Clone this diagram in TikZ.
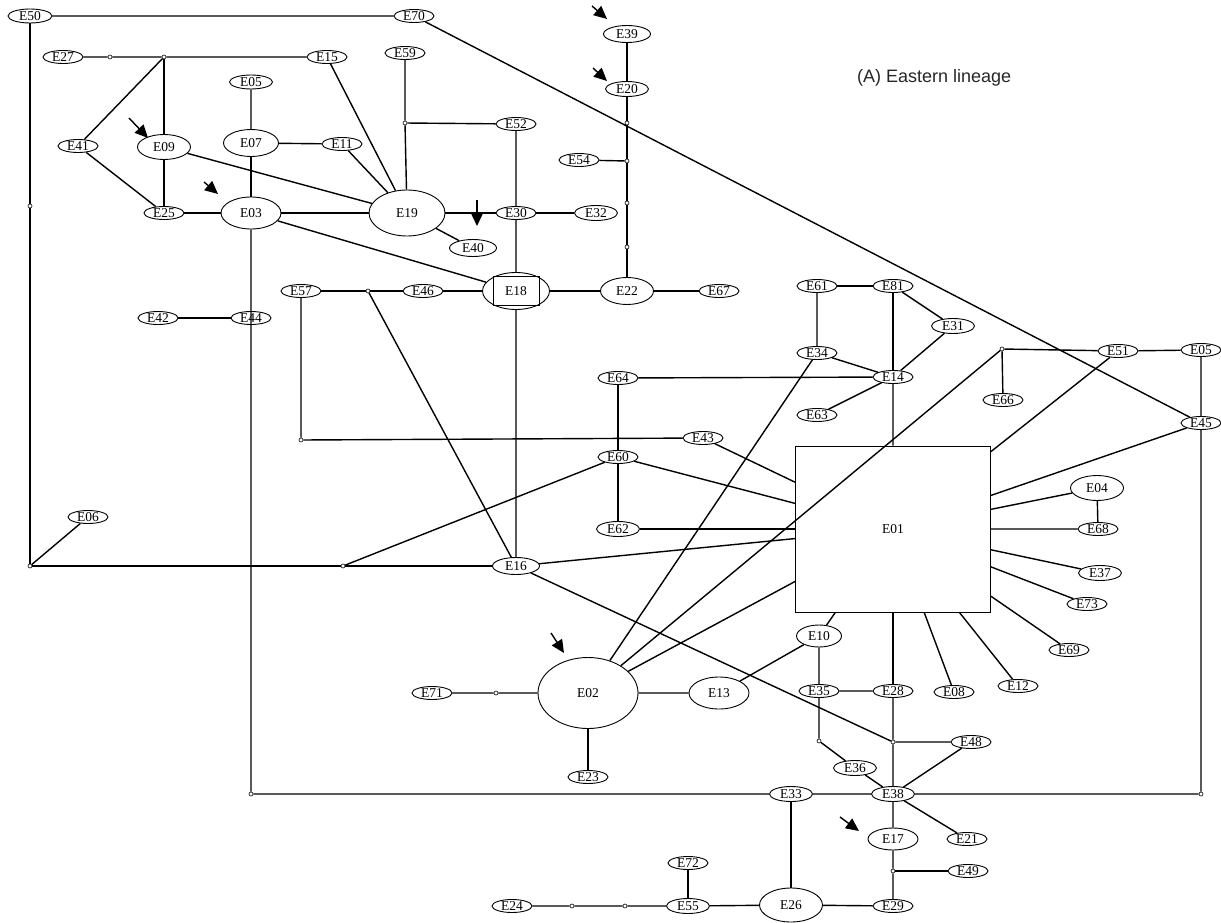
\documentclass[tikz,border=0pt]{standalone}
\usepackage{fontspec}
\setmainfont{Liberation Serif}
\newfontfamily\titlefont{Liberation Sans}
\usetikzlibrary{shapes.geometric,arrows.meta}

\begin{document}
\begin{tikzpicture}[x=1pt,y=-1pt,
  hap/.style 2 args={ellipse,draw,line width=0.9pt,inner sep=0pt,minimum width=#1,minimum height=#2,font=\fontsize{13.5}{13.5}\selectfont},
  hs/.style={hap={40pt}{13pt},font=\fontsize{13.5}{13.5}\selectfont},
  hm/.style={hap={43pt}{15pt}},
  mv/.style={circle,draw,fill=white,line width=0.6pt,inner sep=0pt,minimum size=4pt},
  link/.style={line width=1.4pt},
  pointer/.style={line width=1.4pt,-{Triangle[length=13pt,width=12pt]}}]
\useasboundingbox (0,0) rectangle (1221,923);

\node[anchor=west,inner sep=0pt,font=\titlefont\fontsize{18}{18}\selectfont,text=black!85] (title) at (857,78) {(A) Eastern lineage};

\node[draw,line width=0.9pt,minimum width=195pt,minimum height=166pt,font=\fontsize{13.5}{13.5}\selectfont] (e01) at (893,529) {E01};
\node[hap={100pt}{71pt}] (e02) at (588,693) {E02};
\node[hap={60pt}{32pt}] (e03) at (251,213) {E03};
\node[hap={76pt}{46pt}] (e19) at (407,213) {E19};
\node[hap={67pt}{37pt}] (e18) at (516,291) {};
\node[draw,line width=0.9pt,minimum width=46pt,minimum height=29pt,font=\fontsize{13.5}{13.5}\selectfont] (e18box) at (516,291) {E18};
\node[hap={53pt}{25pt}] (e09) at (164,147) {E09};
\node[hap={55pt}{27pt}] (e07) at (251,143) {E07};
\node[hap={53pt}{27pt}] (e22) at (627,291) {E22};
\node[hap={53pt}{25pt}] (e04) at (1097,488) {E04};
\node[hap={60pt}{32pt}] (e13) at (719,693) {E13};
\node[hap={45pt}{22pt}] (e10) at (819,636) {E10};
\node[hap={50pt}{22pt}] (e17) at (893,839) {E17};
\node[hap={63pt}{34pt}] (e26) at (791,905) {E26};
\node[hap={47pt}{17pt}] (e39) at (627,34) {E39};
\node[hap={47pt}{17pt}] (e40) at (473,248) {E40};
\node[hap={47pt}{17pt}] (e16) at (516,566) {E16};
\node[hap={43pt}{14pt}] (e05a) at (251,82) {E05};
\node[hm] (e20) at (627,89) {E20};
\node[hm] (e32) at (596,213) {E32};
\node[hm] (e62) at (618,529) {E62};
\node[hm] (e31) at (953,326) {E31};
\node[hm] (e37) at (1100,573) {E37};
\node[hm] (e36) at (855,768) {E36};
\node[hm] (e38) at (893,794) {E38};
\node[hm] (e33) at (791,794) {E33};
\node[hm] (e55) at (688,906) {E55};

\node[hap={44pt}{14pt}] (e50) at (30,16) {E50};
\node[hs] (e70) at (414,16) {E70};
\node[hs] (e27) at (63,57) {E27};
\node[hs] (e15) at (327,57) {E15};
\node[hs] (e41) at (78,146) {E41};
\node[hs] (e11) at (342,144) {E11};
\node[hs] (e25) at (164,213) {E25};
\node[hs] (e59) at (405,53) {E59};
\node[hs] (e52) at (516,124) {E52};
\node[hs] (e54) at (579,160) {E54};
\node[hs] (e30) at (516,213) {E30};
\node[hs] (e57) at (301,291) {E57};
\node[hs] (e46) at (423,291) {E46};
\node[hs] (e67) at (719,291) {E67};
\node[hs] (e42) at (158,318) {E42};
\node[hs] (e44) at (251,318) {E44};
\node[hs] (e06) at (88,517) {E06};
\node[hs] (e61) at (817,286) {E61};
\node[hs] (e81) at (893,286) {E81};
\node[hs] (e34) at (817,353) {E34};
\node[hs] (e14) at (893,377) {E14};
\node[hs] (e63) at (817,415) {E63};
\node[hs] (e64) at (618,378) {E64};
\node[hs] (e43) at (703,438) {E43};
\node[hs] (e60) at (618,457) {E60};
\node[hs] (e66) at (1003,400) {E66};
\node[hs] (e51) at (1118,351) {E51};
\node[hs] (e05b) at (1201,350) {E05};
\node[hs] (e45) at (1201,423) {E45};
\node[hs] (e68) at (1098,529) {E68};
\node[hs] (e73) at (1087,604) {E73};
\node[hs] (e69) at (1069,650) {E69};
\node[hs] (e35) at (819,691) {E35};
\node[hs] (e28) at (893,691) {E28};
\node[hs] (e08) at (954,692) {E08};
\node[hs] (e12) at (1018,686) {E12};
\node[hs] (e48) at (971,742) {E48};
\node[hs] (e21) at (967,839) {E21};
\node[hs] (e49) at (968,871) {E49};
\node[hs] (e29) at (893,906) {E29};
\node[hs] (e71) at (432,693) {E71};
\node[hs] (e23) at (588,777) {E23};
\node[hs] (e72) at (688,863) {E72};
\node[hs] (e24) at (512,906) {E24};

\node[mv] (d1) at (110,57) {};
\node[mv] (d2) at (164,57) {};
\node[mv] (d3) at (30,206) {};
\node[mv] (d4) at (30,566) {};
\node[mv] (d5) at (405,123) {};
\node[mv] (d6) at (368,291) {};
\node[mv] (d7) at (301,440) {};
\node[mv] (d8) at (343,566) {};
\node[mv] (d9) at (627,123) {};
\node[mv] (d10) at (627,161) {};
\node[mv] (d11) at (627,203) {};
\node[mv] (d12) at (627,247) {};
\node[mv] (d13) at (1002,349) {};
\node[mv] (d14) at (496,693) {};
\node[mv] (d15) at (819,741) {};
\node[mv] (d16) at (893,742) {};
\node[mv] (d17) at (251,794) {};
\node[mv] (d18) at (1201,794) {};
\node[mv] (d19) at (893,871) {};
\node[mv] (d20) at (572,906) {};
\node[mv] (d21) at (625,906) {};

\draw[link] (e50) -- (e70) -- (e45);
\draw[link] (e50) -- (d3) -- (d4) -- (d8) -- (e16);
\draw[link] (d4) -- (e06);
\draw[link] (d8) -- (e60);
\draw[link] (e27) -- (d1) -- (d2) -- (e15) -- (e19);
\draw[link] (d2) -- (e41) -- (e25);
\draw[link] (d2) -- (e09) -- (e25) -- (e03);
\draw[link] (e09) -- (e19);
\draw[link] (e05a) -- (e07) -- (e11) -- (e19);
\draw[link] (e07) -- (e03) -- (e19) -- (e30) -- (e32);
\draw[link] (e59) -- (d5) -- (e19);
\draw[link] (d5) -- (e52) -- (e30) -- (e18);
\draw[link] (e19) -- (e40);
\draw[link] (e03) -- (e18);
\draw[link] (e03) -- (d17) -- (e33) -- (e38) -- (d18) -- (e45) -- (e05b) -- (e51) -- (d13);
\draw[link] (e42) -- (e44);
\draw[link] (e57) -- (d6) -- (e46) -- (e18) -- (e22) -- (e67);
\draw[link] (d6) -- (e16) -- (e18);
\draw[link] (e57) -- (d7) -- (e43) -- (e01);
\draw[link] (e22) -- (d12) -- (d11) -- (d10) -- (d9) -- (e20) -- (e39);
\draw[link] (e54) -- (d10);
\draw[link] (e64) -- (e60) -- (e62) -- (e01);
\draw[link] (e60) -- (e01);
\draw[link] (e16) -- (e01);
\draw[link] (e16) -- (d16);
\draw[link] (e64) -- (e14) -- (e01);
\draw[link] (e61) -- (e81) -- (e14);
\draw[link] (e81) -- (e31) -- (e14);
\draw[link] (e61) -- (e34) -- (e14) -- (e63);
\draw[link] (e02) -- (e34);
\draw[link] (e02) -- (d13) -- (e66);
\draw[link] (e02) -- (e01);
\draw[link] (e51) -- (e01);
\draw[link] (e45) -- (e01);
\draw[link] (e04) -- (e01) -- (e68) -- (e04);
\draw[link] (e01) -- (e37);
\draw[link] (e01) -- (e73);
\draw[link] (e01) -- (e69);
\draw[link] (e01) -- (e12);
\draw[link] (e01) -- (e08);
\draw[link] (e01) -- (e28);
\draw[link] (e01) -- (e10);
\draw[link] (e71) -- (d14) -- (e02) -- (e13) -- (e10) -- (e35) -- (e28) -- (d16) -- (e38);
\draw[link] (e02) -- (e23);
\draw[link] (d16) -- (e48) -- (e38);
\draw[link] (e35) -- (d15) -- (e36) -- (e38) -- (e17) -- (d19) -- (e29) -- (e26) -- (e55) -- (d21) -- (d20) -- (e24);
\draw[link] (e38) -- (e21);
\draw[link] (d19) -- (e49);
\draw[link] (e55) -- (e72);
\draw[link] (e26) -- (e33);

\draw[pointer] (129,118) -- (148,138);
\draw[pointer] (204,182) -- (218,194);
\draw[pointer] (592,6) -- (607,19);
\draw[pointer] (593,68) -- (607,81);
\draw[pointer] (477,200) -- (477,226);
\draw[pointer] (551,633) -- (564,653);
\draw[pointer] (840,817) -- (859,831);
\end{tikzpicture}
\end{document}
